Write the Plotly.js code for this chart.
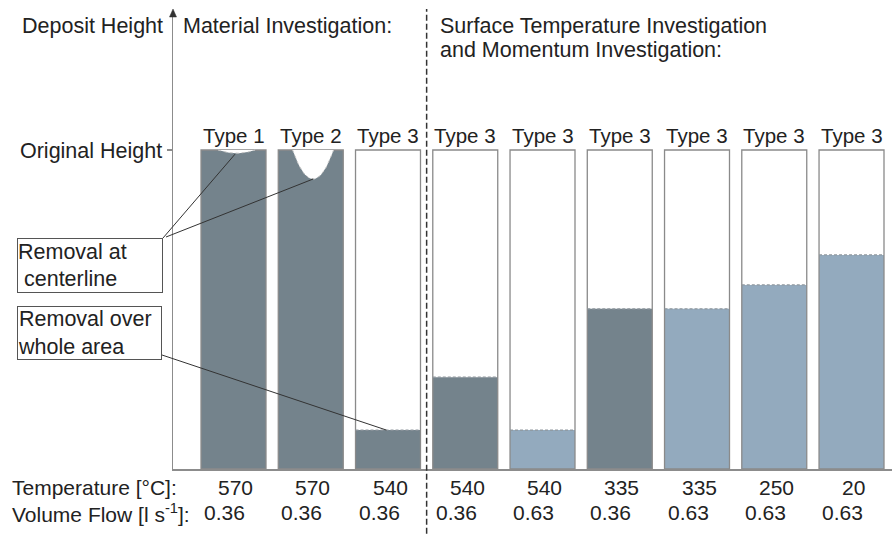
<!DOCTYPE html>
<html>
<head>
<meta charset="utf-8">
<script src="https://cdn.plot.ly/plotly-3.0.1.min.js"></script>
<style>html,body{margin:0;padding:0;background:#fff;}#chart{width:892px;height:535px;}</style>
</head>
<body>
<div id="chart"></div>
<script>
// ---- data ----
const categories = ['Type 1','Type 2','Type 3','Type 3','Type 3','Type 3','Type 3','Type 3','Type 3'];
const temperatures = ['570','570','540','540','540','335','335','250','20'];
const volumeFlows = ['0.36','0.36','0.36','0.36','0.63','0.36','0.63','0.63','0.63'];
const originalHeight = [1,1,1,1,1,1,1,1,1];
const depositRemaining = [1,1,0.122,0.288,0.122,0.502,0.502,0.577,0.671];
const centerlineRemoval = [0.01,0.091,0,0,0,0,0,0,0];

// ---- styling / layout constants ----
const FONT = 'Liberation Sans, Arial, sans-serif';
const FS = 21.5;
const FSB = 21;
const FST = 20.5;
const TXT = '#222';
const positions = categories.map((c,i)=>i+1);
const BARW = 0.841;
const XR = [0.2168, 9.524];
const YR = [0, 1.4295];
const PL = 173, PT = 13, PW = 719, PH = 456;
const flowColor = {'0.36':'#74838c','0.63':'#93aabe'};
const fillColors = volumeFlows.map(v=>flowColor[v]);
function xp(x){return (x-XR[0])/(XR[1]-XR[0]);}
function yp(y){return (y-YR[0])/(YR[1]-YR[0]);}
function pxX(px){return (px-PL)/PW;}
function pxY(py){return (PT+PH-py)/PH;}

const traces = [];
// background (original height) bars
traces.push({type:'bar',x:positions,y:originalHeight,width:BARW,
  marker:{color:'#ffffff',line:{width:0}},hoverinfo:'skip'});
// remaining deposit
traces.push({type:'bar',x:positions,y:depositRemaining,width:BARW,
  marker:{color:fillColors,line:{width:0}},hoverinfo:'skip'});
// centerline removal cut-outs (parabolic)
positions.forEach((p,i)=>{
  const d = centerlineRemoval[i];
  if(d<=0) return;
  const hw = i===0 ? 0.24 : 0.265;
  const c = p + (i===0?0.04:0.03);
  const xs=[], ys=[];
  for(let k=0;k<=30;k++){
    const t = -1 + 2*k/30;
    xs.push(c + hw*t);
    ys.push(originalHeight[i] - d*(1-t*t));
  }
  traces.push({type:'scatter',mode:'lines',x:xs,y:ys,fill:'toself',fillcolor:'#ffffff',
    line:{color:'#c8c8c8',width:1,dash:'dot'},hoverinfo:'skip'});
});
// dashed top of remaining deposit
const lx=[], ly=[];
positions.forEach((p,i)=>{
  if(depositRemaining[i] < originalHeight[i]){
    lx.push(p-BARW/2, p+BARW/2, null);
    ly.push(depositRemaining[i], depositRemaining[i], null);
  }
});
traces.push({type:'scatter',mode:'lines',x:lx,y:ly,line:{color:'#8f979d',width:1.2,dash:'3px,2px'},hoverinfo:'skip'});
// outlines
traces.push({type:'bar',x:positions,y:originalHeight,width:BARW,
  marker:{color:'rgba(0,0,0,0)',line:{color:'#8a8a8a',width:1.3}},hoverinfo:'skip'});

const annotations = [];
function txt(text,x,y,xa,ya,extra,size){
  return Object.assign({text:text,x:x,y:y,xref:'paper',yref:'paper',xanchor:xa,yanchor:ya,
    showarrow:false,font:{family:FONT,size:size||FS,color:TXT}},extra||{});
}
annotations.push(txt('Deposit Height',pxX(165),pxY(26),'right','middle'));
annotations.push(txt('Material Investigation:',pxX(181),pxY(26),'left','middle'));
annotations.push(txt('Surface Temperature Investigation',pxX(438),pxY(26),'left','middle'));
annotations.push(txt('and Momentum Investigation:',pxX(438),pxY(50),'left','middle'));
const ROW1 = 487, ROW2 = 512.5;
annotations.push(txt('Temperature [°C]:',pxX(10),pxY(ROW1),'left','middle',{},FSB));
annotations.push(txt('Volume Flow [l s<sup>-1</sup>]:',pxX(10),pxY(ROW2),'left','middle',{},FSB));
positions.forEach((p,i)=>{
  annotations.push(txt(categories[i],xp(p),pxY(135),'center','middle',{},FST));
  annotations.push(txt(temperatures[i],xp(p),pxY(ROW1),'center','middle',{xshift:2},FSB));
  annotations.push(txt(volumeFlows[i],xp(p),pxY(ROW2),'center','middle',{xshift:-9},FSB));
});
// callout boxes
annotations.push(txt('Removal at<br>&nbsp;centerline',pxX(17),pxY(238),'left','top',
  {align:'left',bordercolor:'#555',borderwidth:1,borderpad:0,width:144,height:53}));
annotations.push(txt('Removal over<br>whole area',pxX(17),pxY(306),'left','top',
  {align:'left',bordercolor:'#555',borderwidth:1,borderpad:0,width:143,height:52}));

const shapes = [];
function seg(x0,y0,x1,y1,extra){
  return Object.assign({type:'line',xref:'paper',yref:'paper',x0:x0,y0:y0,x1:x1,y1:y1,
    line:{color:'#333',width:1}},extra||{});
}
// leader lines
shapes.push(seg(pxX(163),pxY(238),xp(positions[0]+0.02),yp(originalHeight[0]-centerlineRemoval[0]-0.003)));
shapes.push(seg(pxX(166),pxY(237),xp(positions[1]+0.03),yp(originalHeight[1]-centerlineRemoval[1])));
shapes.push(seg(pxX(162),pxY(355),xp(positions[2]-0.02),yp(depositRemaining[2])));
// separator
shapes.push(seg(xp(3.5),-0.142,xp(3.5),pxY(9),{line:{color:'#333',width:1.5,dash:'6px,3px'}}));
// y-axis arrow head
shapes.push({type:'path',xref:'paper',yref:'paper',
  path:'M '+pxX(173)+' '+pxY(9)+' L '+pxX(169.5)+' '+pxY(17)+' L '+pxX(176.5)+' '+pxY(17)+' Z',
  fillcolor:'#333',line:{color:'#333',width:0.5}});

const layout = {
  width:892,height:535,
  margin:{l:PL,r:0,t:PT,b:535-PT-PH,pad:0},
  paper_bgcolor:'#fff',plot_bgcolor:'#fff',
  barmode:'overlay',showlegend:false,hovermode:false,
  font:{family:FONT,size:FS,color:TXT},
  xaxis:{range:XR,showline:true,linecolor:'#8c8c8c',linewidth:1.5,showgrid:false,zeroline:false,
    showticklabels:false,ticks:'',fixedrange:true},
  yaxis:{range:YR,showline:true,linecolor:'#8c8c8c',linewidth:1.5,showgrid:false,zeroline:false,
    tickmode:'array',tickvals:[1],ticktext:['Original Height'],ticks:'outside',ticklen:5,
    tickcolor:'#8c8c8c',tickwidth:1.2,tickfont:{family:FONT,size:FS,color:TXT},fixedrange:true},
  annotations:annotations,shapes:shapes
};
Plotly.newPlot('chart',traces,layout,{displayModeBar:false,staticPlot:true});
</script>
</body>
</html>
